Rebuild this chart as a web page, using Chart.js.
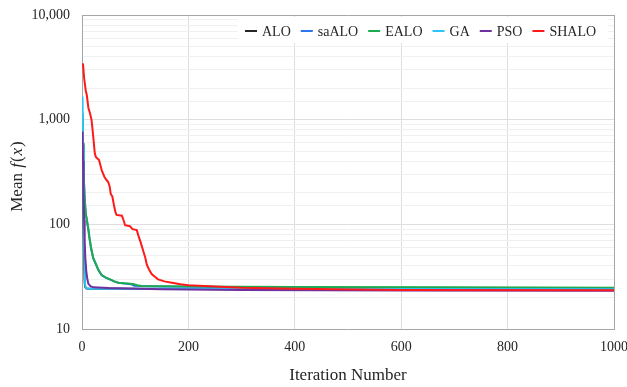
<!DOCTYPE html>
<html>
<head>
<meta charset="utf-8">
<script src="https://cdn.jsdelivr.net/npm/chart.js@4/dist/chart.umd.min.js"></script>
<style>
  html, body { margin: 0; padding: 0; background: #fff; }
  #wrap { width: 627px; height: 387px; }
</style>
</head>
<body>
<div id="wrap"><canvas id="meanChart"></canvas></div>
<script>
// Mean best fitness per iteration for each algorithm (log y)
const algoNames = ['ALO', 'saALO', 'EALO', 'GA', 'PSO', 'SHALO'];
const algoColors = ['#262626', '#2e75f0', '#1eaa4e', '#2ec5f5', '#7030a0', '#ff1a1a'];

const aloIter = [1, 2, 3, 4, 5, 6, 8, 12, 50, 200, 500, 1000];
const aloMean = [700, 260, 95, 42, 28, 25.2, 24.4, 24.2, 24.2, 24.1, 24.0, 23.9];

const saAloIter = [1, 2, 3, 5, 7, 9, 12, 14, 17, 21, 26, 31, 37, 45, 53, 60, 68, 80, 92, 98, 110, 150, 200, 400, 700, 1000];
const saAloMean = [1100, 580, 300, 175, 125, 110, 88, 74, 59, 47.5, 41.5, 36.4, 32.6, 30.8, 29.6, 28.5, 27.6, 27.2, 26.8, 25.9, 25.7, 25.5, 25.3, 24.8, 24.5, 24.3];

const ealoIter = [1, 2, 3, 5, 7, 9, 12, 14, 17, 21, 26, 31, 37, 45, 53, 60, 68, 80, 96, 104, 112, 150, 200, 400, 700, 1000];
const ealoMean = [1150, 600, 310, 180, 128, 112, 90, 75, 60, 48, 42, 36.6, 32.8, 31, 29.8, 28.7, 27.7, 27.3, 26.9, 26.2, 25.7, 25.6, 25.5, 25.2, 25.0, 24.8];

const gaIter = [1, 2, 3, 4, 5, 6, 8, 12, 50, 200, 500, 1000];
const gaMean = [1660, 520, 150, 60, 33, 26, 24.6, 24.3, 24.3, 24.2, 24.1, 24.0];

const psoIter = [1, 2, 3, 4, 5, 6, 8, 10, 12, 16, 21, 50, 150, 300, 600, 1000];
const psoMean = [770, 400, 200, 110, 70, 50, 36, 30, 27, 25.6, 25.0, 24.6, 24.0, 23.6, 23.3, 23.2];

const shaloIter = [1, 2, 4, 7, 9, 12, 15, 18, 21, 24, 26, 32, 35, 37, 42, 46, 49, 52, 54, 57, 60, 63, 65, 75, 78, 81, 90, 95, 103, 106, 110, 115, 119, 122, 126, 131, 137, 143, 155, 169, 185, 200, 250, 300, 400, 600, 1000];
const shaloMean = [3450, 3350, 2500, 1900, 1720, 1300, 1150, 990, 700, 480, 440, 411, 360, 330, 285, 265, 255, 230, 195, 185, 153, 130, 123, 121, 110, 98, 96, 90, 88, 78, 68, 56, 48, 41, 37, 33.5, 31.5, 29.8, 28.5, 27.7, 26.8, 26.2, 25.5, 24.8, 24.2, 23.6, 23.4];

const xTicks = [0, 200, 400, 600, 800, 1000];
const yTicks = [10, 100, 1000, 10000];

const seriesIter = [aloIter, saAloIter, ealoIter, gaIter, psoIter, shaloIter];
const seriesMean = [aloMean, saAloMean, ealoMean, gaMean, psoMean, shaloMean];

const serif = "'Liberation Serif', 'DejaVu Serif', serif";
const textColor = '#262626';
const frameColor = '#a6a6a6';

function toPoints(iters, vals) {
  return iters.map((it, i) => ({ x: it, y: vals[i] }));
}

// later series are painted over earlier ones
const datasets = algoNames.map((name, i) => ({
  label: name,
  data: toPoints(seriesIter[i], seriesMean[i]),
  borderColor: algoColors[i],
  backgroundColor: algoColors[i],
  borderWidth: 2,
  pointRadius: 0,
  tension: 0,
  fill: false,
  order: algoNames.length - i
}));

function isDecade(v) {
  return yTicks.includes(v);
}

// legend sits inside the plot, top right, on a white box
const insideLegend = {
  id: 'insideLegend',
  afterDraw(chart) {
    const ctx = chart.ctx;
    const top = chart.chartArea.top;
    ctx.save();
    ctx.font = '14px ' + serif;
    ctx.fillStyle = '#fff';
    ctx.fillRect(238, top + 2, 370, 26);
    let x = 245;
    const y = top + 16;
    chart.data.datasets.forEach(ds => {
      ctx.strokeStyle = ds.borderColor;
      ctx.lineWidth = 2;
      ctx.beginPath();
      ctx.moveTo(x, y);
      ctx.lineTo(x + 12, y);
      ctx.stroke();
      x += 17;
      ctx.fillStyle = textColor;
      ctx.textBaseline = 'middle';
      ctx.fillText(ds.label, x, y + 1);
      x += ctx.measureText(ds.label).width + 10;
    });
    ctx.restore();
  }
};

// y title "Mean f(x)" with italic math letters
const yTitle = {
  id: 'yTitle',
  afterDraw(chart) {
    const ctx = chart.ctx;
    const area = chart.chartArea;
    const parts = [
      ['Mean ', ''], ['f', 'italic '], ['(', ''], ['x', 'italic '], [')', '']
    ];
    ctx.save();
    ctx.translate(18, (area.top + area.bottom) / 2 + 4);
    ctx.rotate(-Math.PI / 2);
    ctx.fillStyle = textColor;
    ctx.textBaseline = 'middle';
    let total = 0;
    parts.forEach(p => {
      ctx.font = p[1] + '17px ' + serif;
      total += ctx.measureText(p[0]).width + 1;
    });
    let x = -total / 2;
    parts.forEach(p => {
      ctx.font = p[1] + '17px ' + serif;
      ctx.fillText(p[0], x, 0);
      x += ctx.measureText(p[0]).width + 1;
    });
    ctx.restore();
  }
};

new Chart(document.getElementById('meanChart'), {
  type: 'line',
  data: { datasets: datasets },
  options: {
    responsive: true,
    maintainAspectRatio: false,
    animation: false,
    layout: { padding: { top: 15, right: 13, left: 0, bottom: 0 } },
    plugins: {
      legend: { display: false },
      tooltip: { enabled: false }
    },
    scales: {
      x: {
        type: 'linear',
        min: 0,
        max: 1000,
        afterFit: scale => {
          scale.height = 58;
          scale.paddingLeft = 0;
          scale.paddingRight = 0;
        },
        afterBuildTicks: scale => { scale.ticks = xTicks.map(v => ({ value: v })); },
        ticks: {
          color: textColor,
          font: { family: serif, size: 14 },
          padding: 10,
          maxRotation: 0,
          autoSkip: false,
          callback: v => String(v)
        },
        grid: {
          drawTicks: false,
          color: c => (c.tick.value === 1000 ? frameColor : '#dedede')
        },
        border: { color: frameColor, width: 1 },
        title: {
          display: true,
          text: 'Iteration Number',
          color: textColor,
          font: { family: serif, size: 17 },
          padding: { top: 0, bottom: 1 }
        }
      },
      y: {
        type: 'logarithmic',
        min: 10,
        max: 10000,
        afterFit: scale => {
          scale.width = 82;
          scale.paddingTop = 0;
          scale.paddingBottom = 0;
        },
        ticks: {
          color: textColor,
          font: { family: serif, size: 14 },
          padding: 12,
          autoSkip: false,
          callback: v => (isDecade(v) ? v.toLocaleString('en-US') : '')
        },
        grid: {
          drawTicks: false,
          color: c => {
            if (c.tick.value === 10000) return frameColor;
            return isDecade(c.tick.value) ? '#dedede' : '#f0f0f0';
          }
        },
        border: { color: frameColor, width: 1 }
      }
    }
  },
  plugins: [insideLegend, yTitle]
});
</script>
</body>
</html>
